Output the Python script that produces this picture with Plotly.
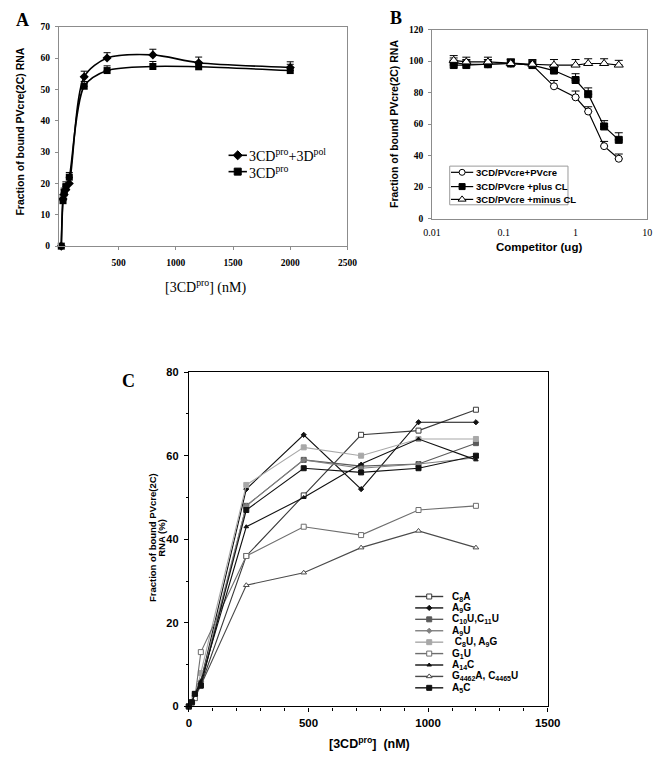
import plotly.graph_objects as go

W, H = 669, 758

# ---------------- Panel A data ----------------
a_x = [0, 15, 25, 40, 70, 200, 400, 800, 1200, 2000]
a_pol_y = [0, 15, 16.5, 18, 20, 54, 60, 61, 58.5, 57]
a_pol_err = [0, 1.5, 1.5, 1.5, 1.8, 1.8, 1.7, 1.8, 1.8, 1.8]
a_pro_y = [0, 14.5, 17, 19, 22, 51, 56, 57.3, 57.2, 56]
a_pro_err = [0, 1.5, 1.5, 1.5, 1.5, 1.5, 1.5, 1.6, 1.5, 2.0]
a_names = ["3CD<sup>pro</sup>+3D<sup>pol</sup>", "3CD<sup>pro</sup>"]
a_xticks = [500, 1000, 1500, 2000, 2500]

# ---------------- Panel B data ----------------
b_x = [0.02, 0.03, 0.06, 0.125, 0.25, 0.5, 1, 1.5, 2.5, 4]
b_pv = [99, 98, 98, 98.5, 97.5, 84, 77, 68, 46, 38]
b_pv_err = [3, 3, 3, 2.5, 2.5, 3.7, 4, 3, 3, 3]
b_plus = [97.5, 97.5, 98, 98.5, 97.5, 94, 88, 79, 58.5, 50]
b_plus_err = [3, 3, 3, 2.5, 3, 3, 4, 4, 3.7, 4.5]
b_minus = [100.5, 99.5, 99.5, 98.5, 98, 97.5, 97.5, 98.5, 98.5, 97.5]
b_minus_err = [3, 3, 3, 3, 3, 3.5, 3.5, 3, 3, 3]
b_names = ["3CD/PVcre+PVcre", "3CD/PVcre +plus CL", "3CD/PVcre +minus CL"]
b_xticks = [0.01, 0.1, 1, 10]

# ---------------- Panel C data ----------------
c_x = [0, 12.5, 25, 50, 240, 480, 720, 960, 1200]
c_names = ["C<sub>8</sub>A", "A<sub>9</sub>G", "C<sub>10</sub>U,C<sub>11</sub>U",
           "A<sub>9</sub>U", " C<sub>8</sub>U, A<sub>9</sub>G", "G<sub>1</sub>U",
           "A<sub>14</sub>C", "G<sub>4462</sub>A, C<sub>4465</sub>U", "A<sub>5</sub>C"]
c_C8A = [0, 1, 3, 5, 36, 50.5, 65, 66, 71]
c_A9G = [0, 1, 3, 6, 52, 65, 52, 68, 68]
c_C10U = [0, 1, 2, 5, 48, 59, 57.5, 58, 63]
c_A9U = [0, 1, 2, 6, 48, 59, 57, 58, 59.5]
c_C8U = [0, 1, 2, 8, 53, 62, 60, 64, 64]
c_G1U = [0, 1, 2, 13, 36, 43, 41, 47, 48]
c_A14C = [0, 1, 3, 6, 43, 50, 58, 64, 59]
c_G4462 = [0, 1, 3, 5, 29, 32, 38, 42, 38]
c_A5C = [0, 1, 3, 5, 47, 57, 56, 57, 60]
c_series = [c_C8A, c_A9G, c_C10U, c_A9U, c_C8U, c_G1U, c_A14C, c_G4462, c_A5C]
c_xticks = [0, 500, 1000, 1500]
c_yticks = [0, 20, 40, 60, 80]

# styles for panel C (line colour, symbol, marker fill, size)
c_styles = [
    ("#3a3a3a", "square", "white", 5),
    ("#111111", "diamond", None, 4),
    ("#5a5a5a", "square", None, 5),
    ("#808080", "diamond", None, 4),
    ("#a8a8a8", "square", None, 5),
    ("#6e6e6e", "square", "white", 5),
    ("#111111", "triangle-up", None, 4),
    ("#4a4a4a", "triangle-up", "white", 5),
    ("#111111", "square", None, 5),
]

SERIF = "Liberation Serif"
SANS = "Liberation Sans"


def fx(px):
    return px / W


def fy(py):
    return 1 - py / H


fig = go.Figure()

# ---------- Panel A traces ----------
for yv, err, sym in [(a_pol_y, a_pol_err, "diamond"), (a_pro_y, a_pro_err, "square")]:
    fig.add_trace(go.Scatter(
        x=a_x, y=yv, mode="lines+markers", xaxis="x", yaxis="y",
        line=dict(color="black", width=1.6, shape="spline", smoothing=0.8),
        marker=dict(symbol=sym, size=7, color="black"),
        error_y=dict(type="data", array=err, arrayminus=[0] * len(err), symmetric=False,
                     color="black", thickness=1, width=3.5),
        cliponaxis=False, showlegend=False))

# ---------- Panel B traces ----------
b_styles = [(b_pv, b_pv_err, "circle", "white", 7),
            (b_plus, b_plus_err, "square", "black", 7),
            (b_minus, b_minus_err, "triangle-up", "white", 8)]
for yv, err, sym, fill, sz in b_styles:
    fig.add_trace(go.Scatter(
        x=b_x, y=yv, mode="lines+markers", xaxis="x2", yaxis="y2",
        line=dict(color="black", width=1.2),
        marker=dict(symbol=sym, size=sz, color=fill, line=dict(color="black", width=1)),
        error_y=dict(type="data", array=err, arrayminus=[0] * len(err), symmetric=False,
                     color="black", thickness=1, width=4),
        cliponaxis=False, showlegend=False))

# ---------- Panel C traces ----------
for yv, (col, sym, fill, sz) in zip(c_series, c_styles):
    fig.add_trace(go.Scatter(
        x=c_x, y=yv, mode="lines+markers", xaxis="x3", yaxis="y3",
        line=dict(color=col, width=1.1),
        marker=dict(symbol=sym, size=sz, color=fill or col,
                    line=dict(color=col, width=1)),
        cliponaxis=False, showlegend=False))

# ---------- Legend keys (overlay axis in pixel units) ----------
def key(x0, x1, y, sym, size, fill, lcol, lw=1.2):
    fig.add_trace(go.Scatter(x=[x0, x1], y=[y, y], mode="lines", xaxis="x4", yaxis="y4",
                             line=dict(color=lcol, width=lw), showlegend=False, hoverinfo="skip"))
    fig.add_trace(go.Scatter(x=[(x0 + x1) / 2], y=[y], mode="markers", xaxis="x4", yaxis="y4",
                             marker=dict(symbol=sym, size=size, color=fill,
                                         line=dict(color=lcol, width=1)),
                             showlegend=False, hoverinfo="skip"))

annotations = []


def text(x, y, t, size, family=SANS, bold=True, xanchor="left", yanchor="middle", angle=0, color="black"):
    annotations.append(dict(
        x=fx(x), y=fy(y), xref="paper", yref="paper", text=t, showarrow=False,
        xanchor=xanchor, yanchor=yanchor, textangle=angle,
        font=dict(family=family, size=size, color=color, weight="bold" if bold else "normal")))


# Legend A
a_leg_rows = [151.7, 168.3]
for nm, sym, yy in zip(a_names, ["diamond", "square"], a_leg_rows):
    key(227, 246, yy, sym, 7, "black", "black", 1.6)
    text(246, yy, nm, 14, SERIF, bold=False)

# Legend B (box)
shapes = [dict(type="rect", xref="paper", yref="paper", x0=fx(455.7), x1=fx(578),
               y0=fy(202), y1=fy(162.7), line=dict(color="#9a9a9a", width=1),
               fillcolor="white", layer="below")]
b_leg_rows = [169, 183.5, 196.5]
for nm, (yv, err, sym, fill, sz), yy in zip(b_names, b_styles, b_leg_rows):
    key(457, 480, yy, sym, sz - 1, fill, "black", 1.2)
    text(481, yy, nm, 9.5, SANS, bold=True)

# Legend C
for i, (nm, (col, sym, fill, sz)) in enumerate(zip(c_names, c_styles)):
    yy = 600 + i * 11.6
    key(420, 449, yy, sym, sz, fill or col, col, 1.4)
    text(456, yy, nm, 10, SANS, bold=True)

# Panel letters
text(14, 14, "A", 18, SERIF, xanchor="center")
text(400, 12, "B", 18, SERIF, xanchor="center")
text(124, 381, "C", 18, SERIF, xanchor="center")

# Axis titles
text(11, 128, "Fraction of bound PVcre(2C) RNA", 10.5, SANS, xanchor="center", angle=-90)
text(203, 285, "[3CD<sup>pro</sup>] (nM)", 14, SERIF, bold=False, xanchor="center")
text(398, 120, "Fraction of bound PVcre(2C) RNA", 10.5, SANS, xanchor="center", angle=-90)
text(548, 245, "Competitor (ug)", 11.5, SANS, xanchor="center")
text(148.5, 540, "Fraction of bound PVcre(2C)", 9.5, SANS, xanchor="center", angle=-90)
text(157.5, 540, "RNA (%)", 9.5, SANS, xanchor="center", angle=-90)
text(373, 749, "[3CD<sup>pro</sup>]  (nM)", 12.5, SANS, xanchor="center")

frame_gray = "#8c8c8c"
serif_tick = dict(family=SERIF, size=9.5, color="black", weight="bold")

fig.update_layout(
    width=W, height=H, margin=dict(l=0, r=0, t=0, b=0),
    paper_bgcolor="white", plot_bgcolor="rgba(0,0,0,0)",
    showlegend=False, annotations=annotations, shapes=shapes,
    xaxis=dict(domain=[fx(51.7), fx(350)], range=[-20, 2500], tickvals=a_xticks,
               ticks="outside", ticklen=3, tickcolor=frame_gray, tickfont=serif_tick,
               showline=True, linecolor=frame_gray, linewidth=1, mirror=True,
               showgrid=False, zeroline=False, anchor="y", ticklabelstandoff=4),
    yaxis=dict(domain=[fy(244), fy(21)], range=[0, 70], dtick=10,
               ticks="outside", ticklen=3, tickcolor=frame_gray, tickfont=serif_tick,
               showline=True, linecolor=frame_gray, linewidth=1, mirror=True,
               showgrid=False, zeroline=False, anchor="x", ticklabelstandoff=3),
    xaxis2=dict(domain=[fx(437.5), fx(660)], type="log", range=[-2, 1],
                tickvals=b_xticks, ticktext=["0.01", "0.1", "1", "10"],
                ticks="", tickfont=dict(family=SERIF, size=10, color="black"),
                showline=True, linecolor=frame_gray, linewidth=1, mirror=True,
                showgrid=False, zeroline=False, anchor="y2", ticklabelstandoff=4),
    yaxis2=dict(domain=[fy(216), fy(24)], range=[0, 120], dtick=20,
                ticks="outside", ticklen=3, tickcolor=frame_gray, tickfont=serif_tick,
                showline=True, linecolor=frame_gray, linewidth=1, mirror=True,
                showgrid=False, zeroline=False, anchor="x2", ticklabelstandoff=3),
    xaxis3=dict(domain=[fx(186), fx(557)], range=[0, 1500], tickvals=c_xticks,
                ticks="outside", ticklen=4, tickcolor="black",
                minor=dict(dtick=100, ticks="outside", ticklen=3, tickcolor="black"),
                tickfont=dict(family=SANS, size=11.5, color="black", weight="bold"),
                showline=True, linecolor="black", linewidth=1.2, mirror=True,
                showgrid=False, zeroline=False, anchor="y3", ticklabelstandoff=2),
    yaxis3=dict(domain=[fy(711.7), fy(372)], range=[0, 80], tickvals=c_yticks,
                ticks="outside", ticklen=4, tickcolor="black",
                minor=dict(dtick=10, ticks="outside", ticklen=2, tickcolor="black"),
                tickfont=dict(family=SANS, size=11, color="black", weight="bold"),
                showline=True, linecolor="black", linewidth=1.2, mirror=True,
                showgrid=False, zeroline=False, anchor="x3", ticklabelstandoff=3),
    xaxis4=dict(domain=[0, 1], range=[0, W], visible=False, fixedrange=True, anchor="y4"),
    yaxis4=dict(domain=[0, 1], range=[H, 0], visible=False, fixedrange=True, anchor="x4"),
)

fig.write_html("out.html", config={"displayModeBar": False},
               post_script="document.body.style.margin='0';document.body.style.overflow='hidden';")
